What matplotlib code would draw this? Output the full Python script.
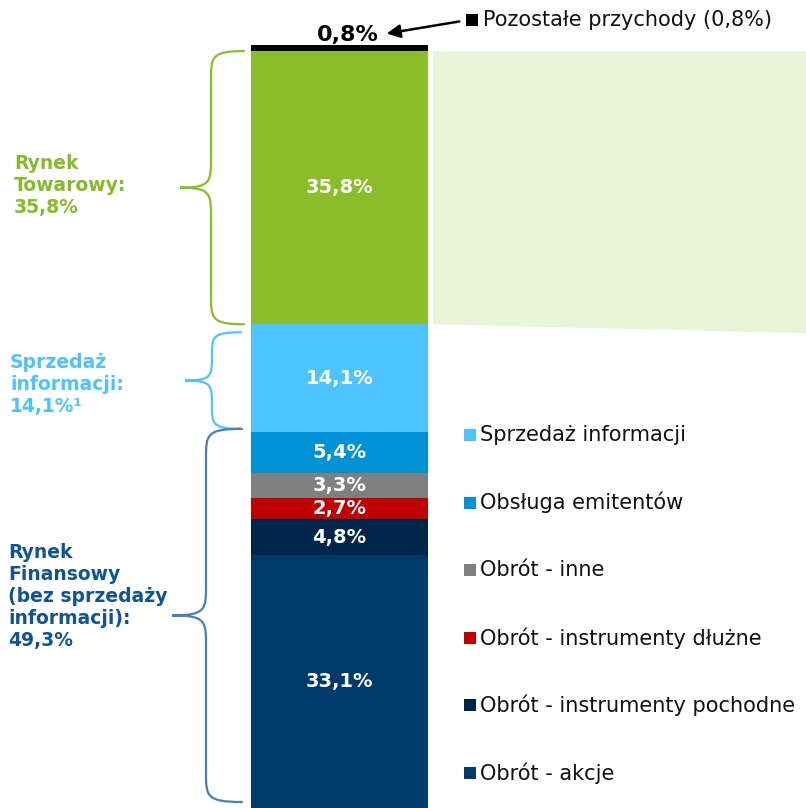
import matplotlib
matplotlib.use("Agg")
import matplotlib.pyplot as plt
from matplotlib.path import Path
from matplotlib.patches import PathPatch, Polygon
import numpy as np

plt.rcParams['font.family'] = ['DejaVu Sans']

# ---- data (bottom to top) ----
categories = ["Obrót - akcje", "Obrót - instrumenty pochodne", "Obrót - instrumenty dłużne",
              "Obrót - inne", "Obsługa emitentów", "Sprzedaż informacji",
              "Rynek Towarowy", "Pozostałe przychody"]
values = [33.1, 4.8, 2.7, 3.3, 5.4, 14.1, 35.8, 0.8]
value_labels = ["33,1%", "4,8%", "2,7%", "3,3%", "5,4%", "14,1%", "35,8%", "0,8%"]
colors = ["#003A6B", "#00254A", "#C00000", "#808080", "#0092D6", "#4DC4FF", "#8ABD29", "#000000"]

legend_labels = ["Sprzedaż informacji", "Obsługa emitentów", "Obrót - inne",
                 "Obrót - instrumenty dłużne", "Obrót - instrumenty pochodne", "Obrót - akcje"]
legend_colors = ["#4DC4FF", "#0092D6", "#808080", "#C00000", "#00254A", "#003A6B"]
other_label = "Pozostałe przychody (0,8%)"

group_texts = ["Rynek\nTowarowy:\n35,8%", "Sprzedaż\ninformacji:\n14,1%¹",
               "Rynek\nFinansowy\n(bez sprzedaży\ninformacji):\n49,3%"]
group_colors = ["#86BC25", "#4DC4FF", "#0F5499"]
brace_colors = ["#8ABD29", "#4DC4FF", "#4A7EC4"]

W, H = 806, 808
fig = plt.figure(figsize=(W / 100, H / 100), dpi=100)
ax = fig.add_axes([0, 0, 1, 1])
top_px = 45
scale = (H - top_px) / 100.0  # px per percent
ax.set_xlim(0, W)
ax.set_ylim(0, H / scale)
ax.axis("off")

def py(p):  # pixel-from-top -> data y
    return (H - p) / scale

# ---- stacked bar ----
bar_x, bar_w = 339.5, 177
bottoms = np.concatenate([[0], np.cumsum(values)[:-1]])
ax.bar([bar_x] * len(values), values, width=bar_w, bottom=bottoms, color=colors, linewidth=0)
for v, b, lab in list(zip(values, bottoms, value_labels))[:-1]:
    ax.text(bar_x, b + v / 2, lab, ha="center", va="center", color="white",
            fontsize=14, fontweight="bold")

# top small segment label + arrow
ax.text(348, py(35), value_labels[-1], ha="center", va="center", fontsize=16,
        fontweight="bold", color="black")
ax.annotate("", xy=(384, py(34)), xytext=(462, py(21)),
            arrowprops=dict(arrowstyle="-|>", color="black", lw=1.8, mutation_scale=20))
ax.scatter([472], [py(20)], marker="s", s=80, color="black", linewidths=0)
ax.text(483, py(20), other_label, ha="left", va="center", fontsize=15, color="#111111")

# light green connector polygon
g_bot = bottoms[6]
g_top = bottoms[6] + values[6]
poly = Polygon([(433, g_top), (W, g_top), (W, g_bot - 9 / scale), (433, g_bot)],
               closed=True, facecolor="#E8F5D9", edgecolor="none")
ax.add_patch(poly)

# ---- legend (manual) ----
leg_y0, leg_dy = 435, 67.6
for i, (lab, c) in enumerate(zip(legend_labels, legend_colors)):
    yy = py(leg_y0 + i * leg_dy)
    ax.scatter([470], [yy], marker="s", s=80, color=c, linewidths=0)
    ax.text(480, yy, lab, ha="left", va="center", fontsize=15, color="#111111")

# ---- braces ----
def brace(x_end, x_spine, x_tip, y_top, y_bot, r, color):
    ym = (y_top + y_bot) / 2
    verts = [(x_end, y_top),
             (x_spine, y_top), (x_spine, y_top - r * 0.2), (x_spine, y_top - r),
             (x_spine, ym + r),
             (x_spine, ym + r * 0.2), (x_spine, ym), (x_tip, ym),
             (x_spine, ym), (x_spine, ym - r * 0.2), (x_spine, ym - r),
             (x_spine, y_bot + r),
             (x_spine, y_bot + r * 0.2), (x_spine, y_bot), (x_end, y_bot)]
    codes = [Path.MOVETO,
             Path.CURVE4, Path.CURVE4, Path.CURVE4,
             Path.LINETO,
             Path.CURVE4, Path.CURVE4, Path.CURVE4,
             Path.CURVE4, Path.CURVE4, Path.CURVE4,
             Path.LINETO,
             Path.CURVE4, Path.CURVE4, Path.CURVE4]
    ax.add_patch(PathPatch(Path(verts, codes), facecolor="none", edgecolor=color, lw=1.6,
                           capstyle="round"))

# Rynek Towarowy
brace(244, 211, 180, g_top, g_bot, 30 / scale, brace_colors[0])
# Sprzedaż informacji
i_bot, i_top = bottoms[5], bottoms[5] + values[5]
brace(241, 212, 185, i_top - 8 / scale, i_bot + 3 / scale, 24 / scale, brace_colors[1])
# Rynek Finansowy
f_top = bottoms[5]
brace(242, 206, 172, f_top + 3 / scale, 6 / scale, 30 / scale, brace_colors[2])

# group labels
ax.text(14, py(154), group_texts[0], ha="left", va="top", fontsize=13.5, fontweight="bold",
        color=group_colors[0], linespacing=1.2)
ax.text(10, py(353), group_texts[1], ha="left", va="top", fontsize=13.5, fontweight="bold",
        color=group_colors[1], linespacing=1.2)
ax.text(8, py(543), group_texts[2], ha="left", va="top", fontsize=13.5, fontweight="bold",
        color=group_colors[2], linespacing=1.2)

fig.savefig("out.png", dpi=100)
